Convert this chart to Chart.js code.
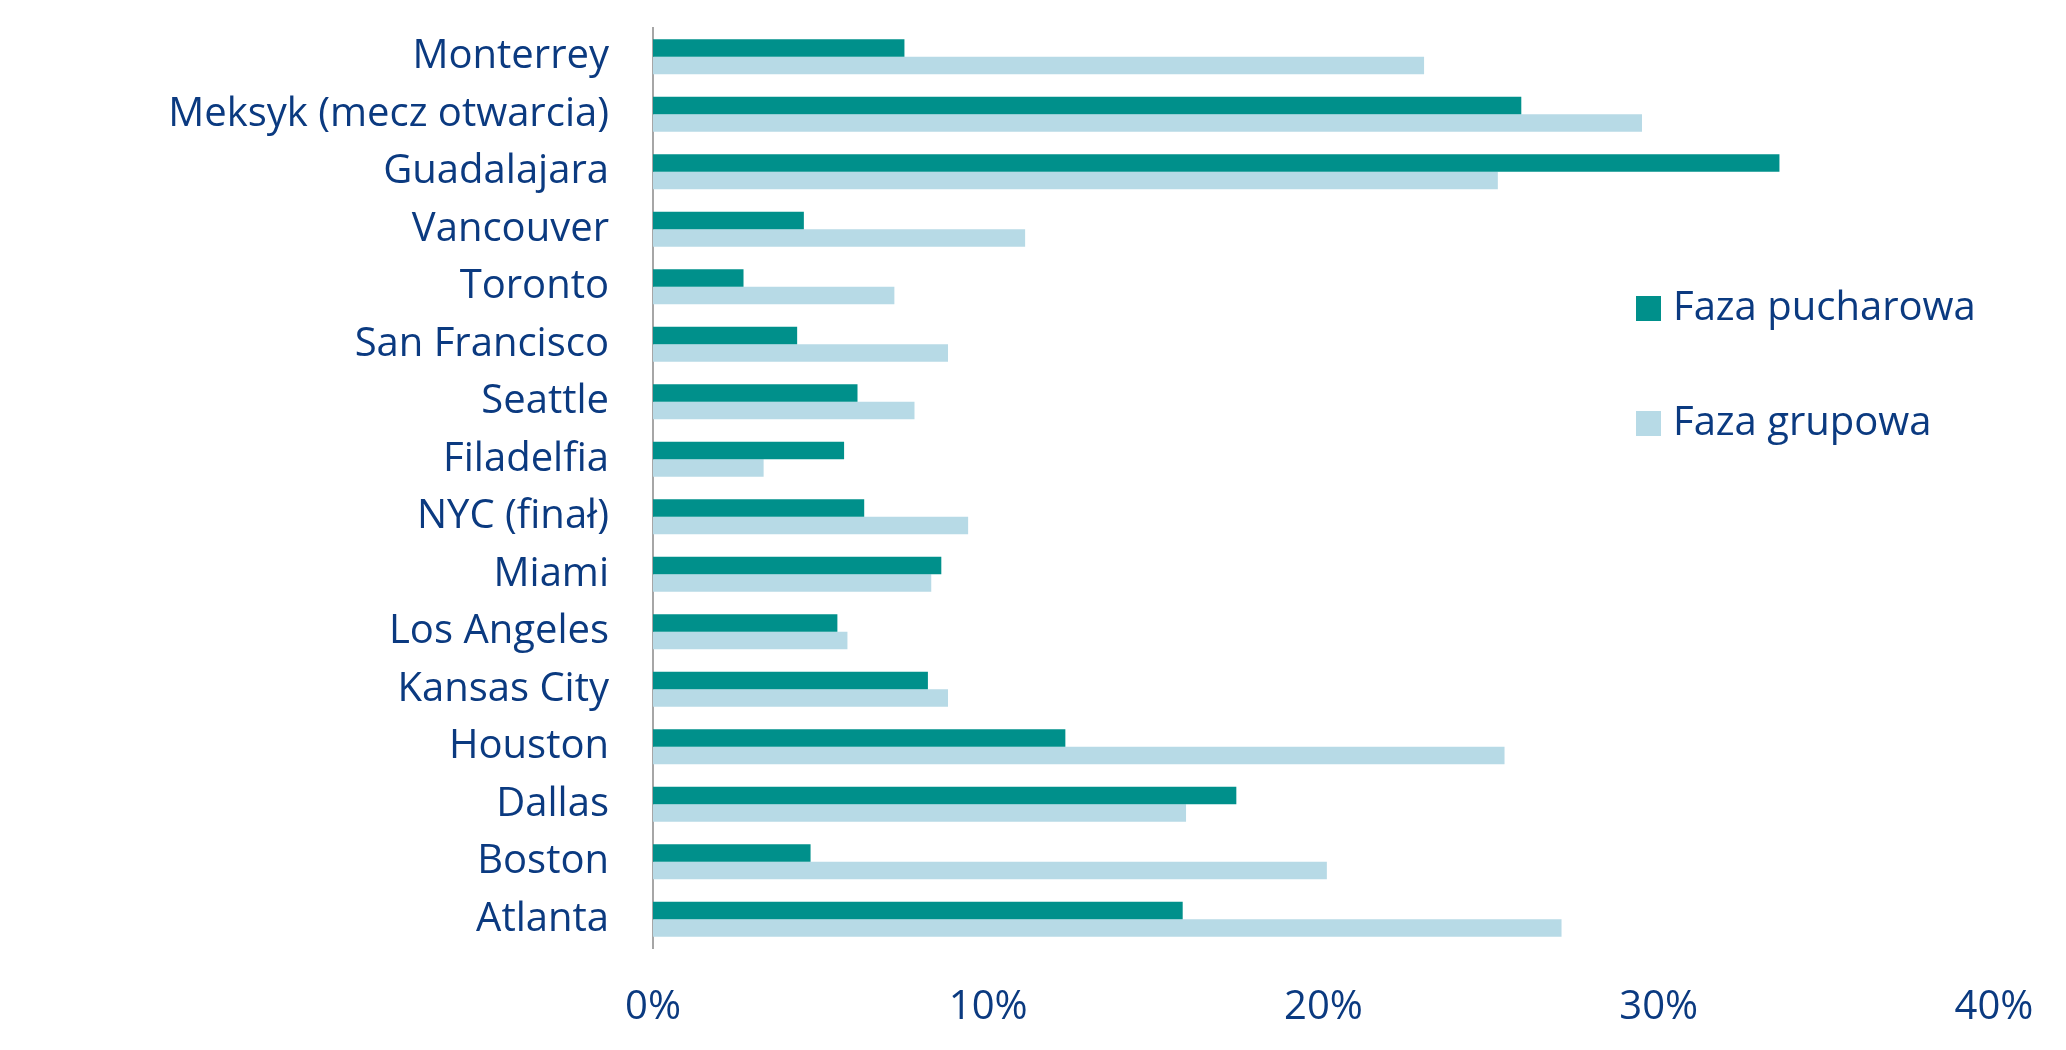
<!DOCTYPE html>
<html>
<head>
<meta charset="utf-8">
<script src="https://cdn.jsdelivr.net/npm/chart.js@4"></script>
<style>
  html, body { margin: 0; padding: 0; background: #fff; }
  #wrap { width: 2066px; height: 1050px; position: relative; }
</style>
</head>
<body>
<div id="wrap"><canvas id="fazyChart"></canvas></div>
<script>
// data (share of tickets, %)
const cities = ["Monterrey", "Meksyk (mecz otwarcia)", "Guadalajara", "Vancouver", "Toronto",
  "San Francisco", "Seattle", "Filadelfia", "NYC (finał)", "Miami", "Los Angeles",
  "Kansas City", "Houston", "Dallas", "Boston", "Atlanta"];
const pucharowa = [7.5, 25.9, 33.6, 4.5, 2.7, 4.3, 6.1, 5.7, 6.3, 8.6, 5.5, 8.2, 12.3, 17.4, 4.7, 15.8];
const grupowa = [23.0, 29.5, 25.2, 11.1, 7.2, 8.8, 7.8, 3.3, 9.4, 8.3, 5.8, 8.8, 25.4, 15.9, 20.1, 27.1];
const seriesNames = ["Faza pucharowa", "Faza grupowa"];
const xTicks = [0, 10, 20, 30, 40];

const navy = "#0B3A80";
const fontFamily = "'Open Sans', 'Noto Sans', sans-serif";

// legend sits inside the plot area on the right, so draw it by hand
const insideLegend = {
  id: "insideLegend",
  afterDraw(chart, args, opts) {
    const ctx = chart.ctx;
    ctx.save();
    ctx.font = opts.size + "px " + fontFamily;
    ctx.textBaseline = "middle";
    ctx.textAlign = "left";
    chart.data.datasets.forEach(function (ds, i) {
      let y = opts.top + i * opts.gap;
      ctx.fillStyle = ds.backgroundColor;
      ctx.fillRect(opts.left, y, opts.box, opts.box);
      ctx.fillStyle = navy;
      ctx.fillText(ds.label, opts.left + opts.box + 12, y + opts.box / 2);
    });
    ctx.restore();
  }
};

new Chart(document.getElementById("fazyChart"), {
  type: "bar",
  data: {
    labels: cities,
    datasets: [
      { label: seriesNames[0], data: pucharowa, backgroundColor: "#00908B" },
      { label: seriesNames[1], data: grupowa, backgroundColor: "#B7DAE6" }
    ]
  },
  options: {
    indexAxis: "y",
    responsive: true,
    maintainAspectRatio: false,
    animation: false,
    datasets: { bar: { categoryPercentage: 0.61, barPercentage: 1.0 } },
    layout: { padding: { top: 28, right: 72, left: 0, bottom: 0 } },
    scales: {
      x: {
        min: xTicks[0],
        max: xTicks[xTicks.length - 1],
        afterBuildTicks: function (scale) {
          scale.ticks = xTicks.map(function (v) { return { value: v }; });
        },
        afterFit: function (scale) {
          scale.height = 102;
          scale.paddingLeft = 0;
          scale.paddingRight = 0;
        },
        grid: { display: false, drawTicks: false },
        border: { display: false },
        ticks: {
          padding: 36,
          color: navy,
          font: { family: fontFamily, size: 40 },
          callback: function (v) { return v + "%"; }
        }
      },
      y: {
        afterFit: function (scale) {
          scale.width = 653;
          scale.paddingTop = 0;
          scale.paddingBottom = 0;
        },
        grid: { display: false, drawTicks: false },
        border: { display: true, color: "#A6A6A6", width: 2 },
        ticks: {
          padding: 44,
          autoSkip: false,
          color: navy,
          font: { family: fontFamily, size: 40 }
        }
      }
    },
    plugins: {
      legend: { display: false },
      tooltip: { enabled: false },
      insideLegend: { left: 1636, top: 296, gap: 115, box: 25, size: 40 }
    }
  },
  plugins: [insideLegend]
});
</script>
</body>
</html>
